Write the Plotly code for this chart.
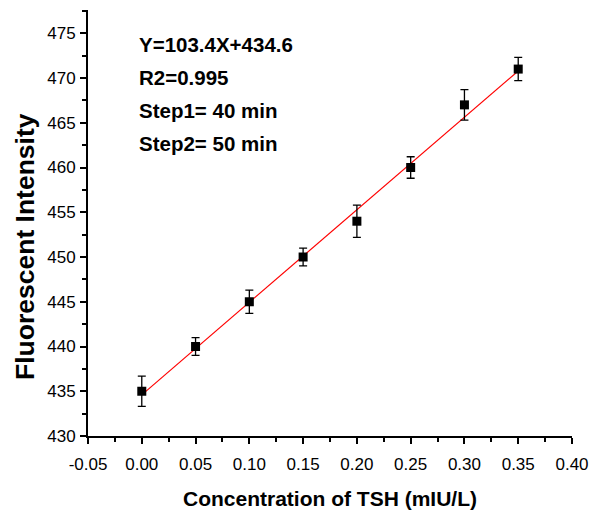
import plotly.graph_objects as go

conc = [0.00, 0.05, 0.10, 0.15, 0.20, 0.25, 0.30, 0.35]
intensity = [435.0, 440.0, 445.0, 450.0, 454.0, 460.0, 467.0, 471.0]
err = [1.7, 1.0, 1.3, 1.0, 1.8, 1.2, 1.7, 1.3]
slope = 103.4
intercept = 434.6
fit_x = [0.0, 0.35]
fit_y = [slope * x + intercept for x in fit_x]
notes = ["Y=103.4X+434.6", "R2=0.995", "Step1= 40 min", "Step2= 50 min"]
x_ticks = [-0.05, 0.00, 0.05, 0.10, 0.15, 0.20, 0.25, 0.30, 0.35, 0.40]
y_ticks = [430, 435, 440, 445, 450, 455, 460, 465, 470, 475]

W, H = 589, 517
L, R, T, B = 88, 572, 10, 436  # plot area in page pixels


def px(x):
    return (x - L) / (R - L)


def py(y):
    return 1 - (y - T) / (B - T)


fig = go.Figure()
fig.add_trace(go.Scatter(x=fit_x, y=fit_y, mode="lines",
                         line=dict(color="red", width=1.2), showlegend=False))
fig.add_trace(go.Scatter(x=conc, y=intensity, mode="markers",
                         marker=dict(symbol="square", size=9, color="black"),
                         error_y=dict(type="data", array=err, color="black",
                                      thickness=1.3, width=4),
                         showlegend=False))

FONT = "Arial, Liberation Sans"
for i, t in enumerate(notes):
    fig.add_annotation(text="<b>%s</b>" % t, xref="paper", yref="paper",
                       x=px(137), y=py(45 + 32.7 * i),
                       xanchor="left", yanchor="middle", showarrow=False,
                       font=dict(family=FONT, size=20.5, color="black"))

fig.add_annotation(text="<b>Fluorescent Intensity</b>", xref="paper", yref="paper",
                   x=px(25), y=py(247), textangle=-90,
                   xanchor="center", yanchor="middle", showarrow=False,
                   font=dict(family=FONT, size=26.5, color="black"))
fig.add_annotation(text="<b>Concentration of TSH (mIU/L)</b>", xref="paper", yref="paper",
                   x=px(330), y=py(498),
                   xanchor="center", yanchor="middle", showarrow=False,
                   font=dict(family=FONT, size=21, color="black"))

axis_common = dict(showline=True, linecolor="black", linewidth=2, ticks="outside",
                   ticklen=6, tickwidth=2, tickcolor="black", showgrid=False,
                   zeroline=False, mirror=False, automargin=False,
                   tickfont=dict(family=FONT, size=17, color="black"))

fig.update_xaxes(range=[-0.05, 0.40], tickvals=x_ticks,
                 ticktext=["%.2f" % v for v in x_ticks], ticklabelstandoff=6,
                 minor=dict(ticks="outside", ticklen=4, tickwidth=2, tickcolor="black", dtick=0.025, tick0=-0.05),
                 **axis_common)
fig.update_yaxes(range=[430, 477.6], tickvals=y_ticks, ticklabelstandoff=1,
                 minor=dict(ticks="outside", ticklen=4, tickwidth=2, tickcolor="black", dtick=2.5, tick0=430),
                 **axis_common)

fig.update_layout(width=W, height=H,
                  margin=dict(l=L, r=W - R, t=T, b=H - B),
                  plot_bgcolor="white", paper_bgcolor="white")

fig.write_html("out.html", config={"displayModeBar": False},
               post_script="document.body.style.margin='0';document.body.style.overflow='hidden';")
